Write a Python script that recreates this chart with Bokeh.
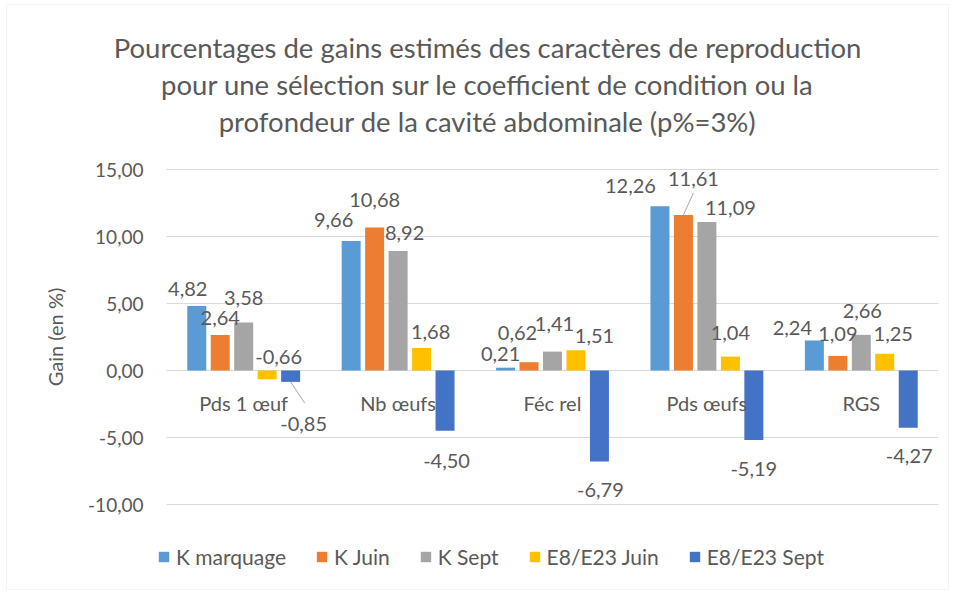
import math
from bokeh.plotting import figure
from bokeh.models import (ColumnDataSource, LabelSet, Legend, LegendItem, FixedTicker,
                          Label, Range1d, Grid, BoxAnnotation)
from bokeh.core.properties import value
from bokeh.embed import file_html
from bokeh.resources import INLINE

# ---------------- data ----------------
categories = ["Pds 1 œuf", "Nb œufs", "Féc rel", "Pds œufs", "RGS"]
series_names = ["K marquage", "K Juin", "K Sept", "E8/E23 Juin", "E8/E23 Sept"]
k_marquage = [4.82, 9.66, 0.21, 12.26, 2.24]
k_juin = [2.64, 10.68, 0.62, 11.61, 1.09]
k_sept = [3.58, 8.92, 1.41, 11.09, 2.66]
e8_juin = [-0.66, 1.68, 1.51, 1.04, 1.25]
e8_sept = [-0.85, -4.50, -6.79, -5.19, -4.27]
y_ticks = [-10, -5, 0, 5, 10, 15]
title_lines = ["Pourcentages de gains estimés des caractères de reproduction",
               "pour une sélection sur le coefficient de condition ou la",
               "profondeur de la cavité abdominale (p%=3%)"]
y_label = "Gain (en %)"

# ---------------- styles / label placement (pixels) ----------------
colors = ["#5B9BD5", "#ED7D31", "#A5A5A5", "#FFC000", "#4472C4"]
bar_offsets = [-0.304, -0.152, 0.0, 0.152, 0.304]
bar_width = 0.123
label_dx = [[-9, -17.5, -5, -29.5, -22],
            [0, 0, -11.5, 10, 0],
            [0, 6.5, 2, 23.5, 1],
            [11.5, 9, 18.5, 0, 8.5],
            [13, 1.5, 1, 0, 1]]
label_dy = [[17, 21, 14, 20, 12],
            [17, 27, 29, 36, 22],
            [25, 17.5, 28, 14, 24],
            [22, 15.5, 14, 24, 20],
            [-42, -30, -29, -28.5, -28]]
# leader lines: (series index, category index, dx px, dy px)
leaders = [(4, 0, 14, -21), (1, 3, 10, 22)]

TXT = "#595959"
FONT = "Lato"

W, H = 950, 590
AXIS_LEFT_PX, AXIS_RIGHT_PX = 166, 938    # pixel columns of the category band
AXIS_TOP_PX, AXIS_BOTTOM_PX = 169, 504    # pixel rows of the 15 and -10 gridlines
BORDER = (6, 948, 4, 589)                 # chart-area border: left, right, top, bottom px
y_lo, y_hi = -10, 15
n = len(categories)
unit_py = (AXIS_BOTTOM_PX - AXIS_TOP_PX) / (y_hi - y_lo)
unit_px = (AXIS_RIGHT_PX - AXIS_LEFT_PX) / n
# the frame covers the whole canvas so that no text is clipped
y_max = y_hi + AXIS_TOP_PX / unit_py
y_min = y_lo - (H - AXIS_BOTTOM_PX) / unit_py
x_min = -AXIS_LEFT_PX / unit_px
x_max = n + (W - AXIS_RIGHT_PX) / unit_px


def px_to_x(px):
    return x_min + px / unit_px


def py_to_y(py):
    return y_max - py / unit_py


p = figure(width=W, height=H, output_backend="svg", toolbar_location=None,
           x_range=Range1d(x_min, x_max), y_range=Range1d(y_min, y_max),
           x_axis_location=None, y_axis_location=None,
           min_border_left=0, min_border_right=0,
           min_border_top=0, min_border_bottom=0)
p.outline_line_color = None
p.grid.visible = False

# chart-area border
p.add_layout(BoxAnnotation(left=px_to_x(BORDER[0]), right=px_to_x(BORDER[1]),
                           top=py_to_y(BORDER[2]), bottom=py_to_y(BORDER[3]),
                           fill_alpha=0, line_color="#D9D9D9", line_width=1,
                           level="underlay"))

# horizontal gridlines at the value ticks, across the category band only
p.add_layout(Grid(dimension=1, ticker=FixedTicker(ticks=y_ticks), cross_bounds=(0, n),
                  grid_line_color="#D9D9D9", grid_line_width=1))

# value-axis tick labels
tsrc = ColumnDataSource(dict(x=[0] * len(y_ticks), y=y_ticks,
                             txt=[f"{t:.2f}".replace(".", ",") for t in y_ticks]))
p.add_layout(LabelSet(x="x", y="y", text="txt", source=tsrc, x_offset=-23,
                      text_align="right", text_baseline="middle",
                      text_font=value(FONT), text_font_size=value("19px"),
                      text_color=TXT))
# value-axis title
p.add_layout(Label(x=54, y=(y_lo + y_hi) / 2, x_units="screen", text=y_label,
                   angle=math.pi / 2, text_align="center", text_baseline="middle",
                   text_font=FONT, text_font_size="20px", text_color=TXT))

all_vals = [k_marquage, k_juin, k_sept, e8_juin, e8_sept]
xs_cat = [i + 0.5 for i in range(n)]
items = []
for i, (name, vals) in enumerate(zip(series_names, all_vals)):
    src = ColumnDataSource(dict(
        x=[c + bar_offsets[i] for c in xs_cat], val=vals,
        txt=[f"{v:.2f}".replace(".", ",") for v in vals],
        dx=label_dx[i], dy=label_dy[i]))
    r = p.vbar(x="x", top="val", bottom=0, width=bar_width, source=src,
               fill_color=colors[i], line_color=None)
    items.append(LegendItem(label=name, renderers=[r]))
    p.add_layout(LabelSet(x="x", y="val", text="txt", source=src,
                          x_offset="dx", y_offset="dy",
                          text_align="center", text_baseline="middle",
                          text_font=value(FONT), text_font_size=value("20px"),
                          text_color=TXT))

# leader lines
lx0, ly0, lx1, ly1 = [], [], [], []
for (si, ci, dxp, dyp) in leaders:
    v = all_vals[si][ci]
    x0 = xs_cat[ci] + bar_offsets[si]
    lx0.append(x0)
    ly0.append(v)
    lx1.append(x0 + dxp / unit_px)
    ly1.append(v + dyp / unit_py)
p.segment(x0=lx0, y0=ly0, x1=lx1, y1=ly1, line_color="#A6A6A6", line_width=1)

# category labels near the zero line
csrc = ColumnDataSource(dict(x=xs_cat, y=[0] * n, cat=categories))
p.add_layout(LabelSet(x="x", y="y", text="cat", source=csrc, y_offset=-32,
                      text_align="center", text_baseline="middle",
                      text_font=value(FONT), text_font_size=value("20px"),
                      text_color=TXT))

# title (screen units measured from the frame's bottom-left corner)
title_rows = [47, 84, 121]
for line, row in zip(title_lines, title_rows):
    p.add_layout(Label(x=487, y=H - row, x_units="screen", y_units="screen",
                       text=line, text_align="center", text_baseline="middle",
                       text_font=FONT, text_font_size="27.5px", text_color=TXT))

legend = Legend(items=items, orientation="horizontal", location=(157, H - 569),
                glyph_width=13, glyph_height=13, label_standoff=6, spacing=29,
                label_text_font=FONT, label_text_font_size="21px",
                label_text_color=TXT, label_height=24, padding=0, margin=0,
                border_line_color=None, background_fill_alpha=0)
p.add_layout(legend, "center")

open("out.html", "w").write(file_html(p, INLINE))
